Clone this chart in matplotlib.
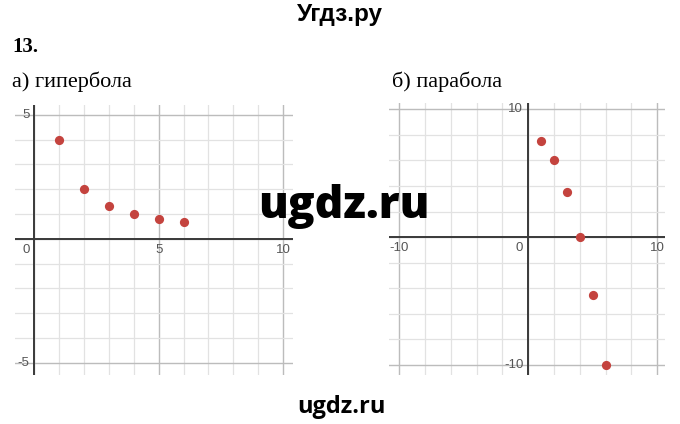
import matplotlib.pyplot as plt
from matplotlib.ticker import MultipleLocator

# data
hyp_x = [1, 2, 3, 4, 5, 6]
hyp_y = [4, 2, 1.33, 1, 0.8, 0.67]
par_x = [1, 2, 3, 4, 5, 6]
par_y = [7.5, 6, 3.5, 0, -4.5, -10]

hyp_xticks = [0, 5, 10]
hyp_yticks = [5, -5]
par_xticks = [-10, 0, 10]
par_yticks = [10, -10]

W, H = 680, 424
fig = plt.figure(figsize=(W / 100, H / 100), dpi=100)
fig.patch.set_facecolor("white")

PT = 72 / 100  # points per pixel


def px_axes(left, top, right, bottom):
    return fig.add_axes([left / W, 1 - bottom / H, (right - left) / W, (bottom - top) / H])


def grid_plot(ax, xs, ys, xlim, ylim, minor, major, xticks, yticks):
    ax.set_xlim(*xlim)
    ax.set_ylim(*ylim)
    for s in ax.spines.values():
        s.set_visible(False)
    ax.xaxis.set_major_locator(MultipleLocator(major))
    ax.yaxis.set_major_locator(MultipleLocator(major))
    ax.xaxis.set_minor_locator(MultipleLocator(minor))
    ax.yaxis.set_minor_locator(MultipleLocator(minor))
    ax.grid(which="minor", color="#e2e2e2", lw=0.9)
    ax.grid(which="major", color="#bcbcbc", lw=1.0)
    ax.tick_params(which="both", length=0, labelbottom=False, labelleft=False)
    ax.set_axisbelow(True)
    ax.axhline(0, color="#3a3a3a", lw=1.4, zorder=2)
    ax.axvline(0, color="#3a3a3a", lw=1.4, zorder=2)
    ax.scatter(xs, ys, s=44, color="#c4433e", zorder=3, linewidths=0)
    lab = dict(fontsize=9.5, color="#555555", family="Liberation Sans")
    for v in xticks:
        if v == 0:
            ax.annotate(str(v), (0, 0), xytext=(-5 * PT, -11 * PT), textcoords="offset points",
                        ha="right", va="center", **lab)
        else:
            ax.annotate(str(v), (v, 0), xytext=(0, -11 * PT),
                        textcoords="offset points", ha="center", va="center", **lab)
    for v in yticks:
        ax.annotate(str(v), (0, v), xytext=(-5 * PT, 0), textcoords="offset points",
                    ha="right", va="center", **lab)


ax1 = px_axes(15, 105, 293, 375)
grid_plot(ax1, hyp_x, hyp_y, (-0.78, 10.4), (-5.5, 5.4), 1, 5, hyp_xticks, hyp_yticks)

ax2 = px_axes(389, 103, 665, 375)
grid_plot(ax2, par_x, par_y, (-10.8, 10.6), (-10.8, 10.5), 2, 10, par_xticks, par_yticks)

# texts
fig.text(340 / W, 1 - 15 / H, "Угдз.ру", ha="center", va="center", fontsize=17.5,
         fontweight="bold", family="Liberation Sans")
fig.text(12 / W, 1 - 47 / H, "13.", ha="left", va="center", fontsize=15,
         fontweight="bold", family="Liberation Serif")
fig.text(12 / W, 1 - 82 / H, "а) гипербола", ha="left", va="center", fontsize=16,
         family="Liberation Serif")
fig.text(392 / W, 1 - 82 / H, "б) парабола", ha="left", va="center", fontsize=16,
         family="Liberation Serif")
fig.text(344 / W, 1 - 206 / H, "ugdz.ru", ha="center", va="center", fontsize=32,
         fontweight="heavy", family="Open Sans", zorder=10)
fig.text(341 / W, 1 - 407 / H, "ugdz.ru", ha="center", va="center", fontsize=17,
         fontweight="bold", family="Open Sans", zorder=10)

fig.savefig("out.png", dpi=100, facecolor="white")
